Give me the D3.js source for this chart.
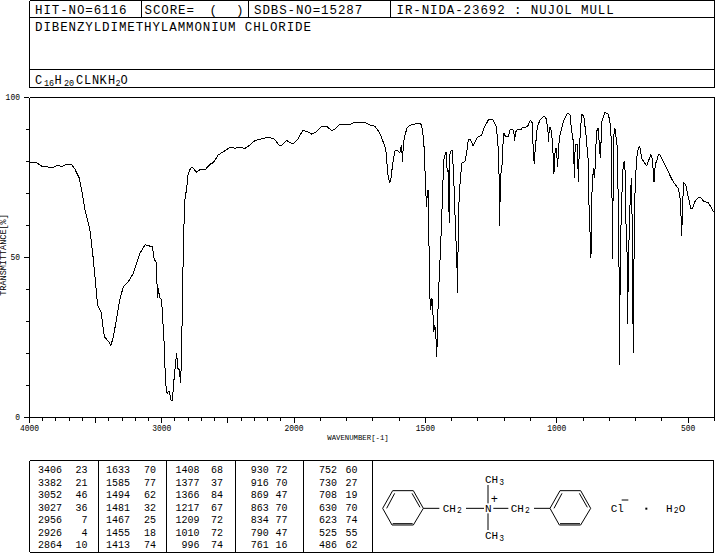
<!DOCTYPE html>
<html><head><meta charset="utf-8">
<script src="https://cdn.jsdelivr.net/npm/d3@7"></script>
<style>html,body{margin:0;padding:0;background:#fff}svg{display:block}text{font-family:"Liberation Mono",monospace;fill:#000}</style>
</head><body><svg id="c" width="715" height="553"></svg>
<script>
const wavenumber=[3999,3981,3951,3908,3858,3820,3790,3757,3719,3681,3656,3623,3606,3580,3543,3522,3505,3485,3459,3434,3404,3384,3366,3341,3321,3291,3253,3215,3165,3127,3071,3056,3044,3036,3031,3024,3018,3001,2983,2971,2960,2945,2930,2920,2910,2897,2887,2880,2867,2857,2850,2842,2835,2825,2812,2800,2782,2767,2737,2707,2673,2635,
2610,2573,2522,2484,2446,2409,2371,2333,2295,2245,2195,2152,2112,2093,2056,2006,1987,1967,1952,1933,1914,1895,1876,1857,1844,1828,1787,1772,1730,1711,
1692,1673,1654,1648,1644,1636,1632,1625,1616,1607,1597,1591,1587,1584,1578,1569,1553,1518,1511,1504,1499,1495,1493,1489,1488,1483,1480,1476,1473,1470,1468,1465,1461,1457,1454,1451,1445,1438,1435,1430,1424,1421,1417,1414,1412,1409,1407,1402,1398,1394,1390,1386,1381,1377,1375,1369,1362,1350,1343,1337,1328,1318,1303,1286,1277,1261,1244,1232,1227,1223,
1219,1218,1214,1209,1206,1201,1195,1185,1178,1168,1163,1161,1156,1147,1138,1131,1112,1100,1093,1090,1086,1082,1074,1064,1049,1041,1035,1031,1029,1024,1019,1014,1011,1007,1003,1001,997,993,988,975,960,950,944,937,933,930,922,918,915,909,904,897,889,880,878,870,868,861,857,854,849,842,838,834,829,817,
804,798,792,790,789,786,784,779,775,770,766,762,761,759,755,751,747,743,740,737,733,731,727,723,719,715,713,709,707,705,702,696,690,684,677,669,658,650,642,636,630,625,620,614,608,595,582,570,557,538,532,528,525,521,518,509,500,490,483,475,462,453,440,424,411,402];
const transmittance=[79.8,79.4,79.6,78.4,78.1,78.0,78.6,78.3,78.9,78.9,77.4,74.6,70.9,64.7,58.4,51.1,43.8,35.0,32.9,25.1,23.7,22.4,25.1,30.8,36.0,40.7,42.3,44.9,51.1,53.8,53.2,49.0,49.0,41.8,37.1,40.2,37.6,36.5,24.0,10.5,7.4,8.2,5.3,5.1,10.5,16.2,20.1,15.2,14.7,10.5,20.4,40.7,56.3,67.8,71.4,76.1,77.7,78.0,76.5,77.4,77.2,79.0,
79.5,81.9,83.2,84.3,84.0,84.3,83.9,85.0,86.4,86.9,87.4,87.0,84.9,84.8,86.4,85.3,86.6,89.5,89.3,88.4,89.2,90.9,90.9,89.5,89.9,91.4,91.4,92.0,92.0,91.2,
90.9,88.6,84.5,81.9,76.1,73.3,74.0,78.7,83.2,83.2,82.7,85.0,79.8,85.5,88.1,90.5,91.4,91.8,89.7,83.4,70.9,65.7,70.7,70.9,61.5,37.6,33.4,37.3,36.5,29.2,26.6,28.7,27.2,18.6,27.2,37.1,48.0,61.5,69.9,80.3,82.4,82.7,76.7,77.2,69.9,60.5,81.9,83.4,83.4,77.7,69.9,59.5,50.1,38.6,62.6,72.0,79.3,79.8,82.4,86.6,86.6,84.7,87.4,88.1,90.2,92.8,93.0,91.2,88.1,84.0,
73.5,59.8,75.6,77.7,84.0,88.6,87.6,87.6,89.7,90.0,88.6,86.2,89.2,90.0,89.7,90.4,90.7,92.8,91.8,84.0,79.0,84.0,90.7,92.8,94.1,93.3,90.7,86.0,90.2,90.7,88.1,81.9,75.8,82.4,84.0,82.9,78.2,84.5,88.1,92.3,94.9,94.6,89.7,86.0,74.8,85.2,85.2,73.5,81.9,91.2,94.6,93.9,88.1,79.8,67.3,49.6,67.3,77.7,74.6,78.2,89.2,90.4,84.5,80.8,92.3,95.2,
94.6,92.3,86.0,68.3,49.4,68.3,87.6,90.4,87.6,84.5,66.2,37.1,16.4,45.4,63.1,72.5,79.3,80.0,76.7,61.0,52.7,29.0,49.6,63.1,71.4,74.6,54.8,20.1,45.4,55.8,72.5,80.8,84.0,84.5,80.8,79.8,78.5,80.3,82.1,80.3,73.3,79.3,79.8,81.9,82.1,79.8,77.7,75.6,73.5,71.4,69.4,64.2,56.7,66.2,73.3,72.5,68.8,65.2,65.2,67.3,68.5,68.7,67.3,67.1,65.2,64.0];
const xTickLabels=[4000,3000,2000,1500,1000,500];
const yTickLabels=[0,50,100];
const peakColumns=[
 [[3406,23],[3382,21],[3052,46],[3027,36],[2956,7],[2926,4],[2864,10]],
 [[1633,70],[1585,77],[1494,62],[1481,32],[1467,25],[1455,18],[1413,74]],
 [[1408,68],[1377,37],[1366,84],[1217,67],[1209,72],[1010,72],[996,74]],
 [[930,72],[916,70],[869,47],[863,70],[834,77],[790,47],[761,16]],
 [[752,60],[730,27],[708,19],[630,70],[623,74],[525,55],[486,62]]];
const peakNumberRight=[62,130,199.5,268.7,337];
const peakValueRight=[87.5,156,223,287.5,357.5];

const svg=d3.select("#c");
const x=d3.scaleLinear().domain([4000,2000,400]).range([29.5,294,714.5]);
const y=d3.scaleLinear().domain([0,100]).range([417,97]);
function line(a,b,c,d,w){svg.append("line").attr("x1",a).attr("y1",b).attr("x2",c).attr("y2",d).attr("stroke","#000").attr("stroke-width",w||1).attr("shape-rendering","crispEdges");}
function label(s,px,py,size,anchor,sx,sy,ls){
  const t=svg.append("text").attr("transform",`translate(${px},${py}) scale(${sx||1},${sy||1})`).attr("font-size",size).attr("text-anchor",anchor||"start").text(s);
  if(ls)t.attr("letter-spacing",ls);return t;}

// header boxes
[[29.5,0.5,714.5,0.5],[29.5,17.5,714.5,17.5],[29.5,69.5,714.5,69.5],[29.5,87.5,714.5,87.5],
 [29.5,0.5,29.5,87.5],[714.5,0.5,714.5,87.5],[141.5,0.5,141.5,17.5],[248.5,0.5,248.5,17.5],[390.5,0.5,390.5,17.5]]
 .forEach(d=>line(...d));
const H=(s,px,py)=>label(s,px,py,12.5,"start",1,1.05,0.9);
H("HIT-NO=6116",35,13.5);H("SCORE=",144.5,13.5);H("(",209.5,13.5);H(")",236,13.5);H("SDBS-NO=15287",254,13.5);
H("IR-NIDA-23692 : NUJOL MULL",396.5,13.5);
H("DIBENZYLDIMETHYLAMMONIUM CHLORIDE",35,31);
[["C",35,83.5,12],["16",44,86,8.5],["H",54.5,83.5,12],["20",64,86,8.5],["C",76,83.5,12],["L",84,83.5,12],["N",92,83.5,12],["K",99.5,83.5,12],["H",108,83.5,12],["2",115.5,86,8.5],["O",120.5,83.5,12]]
 .forEach(d=>label(d[0],d[1],d[2],d[3],"start",1,1.12));

// axes
const gx=svg.append("g").attr("transform","translate(0,417.5)");
const xTicks=d3.range(400,4001,100);
gx.call(d3.axisBottom(x).offset(0).tickValues(xTicks).tickSize(3).tickFormat("").tickSizeOuter(0));
gx.selectAll(".tick line").filter(d=>d%500===0).attr("y2",5);
const gy=svg.append("g").attr("transform","translate(29,0)");
gy.call(d3.axisLeft(y).tickValues(d3.range(0,101,10)).tickSize(3).tickFormat("").tickSizeOuter(0));
gy.selectAll(".tick line").filter(d=>d%50===0).attr("x2",-5);
svg.selectAll("g .domain, g .tick line").attr("stroke","#000").attr("shape-rendering","crispEdges");
line(29.5,97.5,714.5,97.5);line(714.5,97.5,714.5,417.5);
xTickLabels.forEach(v=>label(v,x(v),431,8,"middle",1,1.1));
yTickLabels.forEach(v=>label(v,20,y(v)+3.3,8,"end",1,1.2));
label("WAVENUMBER[-1]",358,439.5,7.3,"middle",1,1);
label("TRANSMITTANCE[%]",0,0,8.5,"middle",1,1.1).attr("transform","translate(6,255) rotate(-90) scale(1,1.1)");

// spectrum
svg.append("path").datum(wavenumber.map((w,i)=>[w,transmittance[i]]))
 .attr("fill","none").attr("stroke","#000").attr("stroke-width",1).attr("stroke-linejoin","bevel").attr("shape-rendering","crispEdges")
 .attr("d",d3.line().x(d=>x(d[0])).y(d=>y(d[1])));

// peak table
[[29.5,460.5,713.5,460.5],[29.5,552,713.5,552],[29.5,460.5,29.5,552],[98.5,460.5,98.5,552],[166.5,460.5,166.5,552],[235.5,460.5,235.5,552],[303.5,460.5,303.5,552],[372.5,460.5,372.5,552],[713.5,460.5,713.5,552]]
 .forEach(d=>line(...d));
peakColumns.forEach((col,c)=>col.forEach((p,r)=>{
  const py=473+r*12.55;
  label(p[0],peakNumberRight[c],py,10,"end",1,1.1);
  label(p[1],peakValueRight[c],py,10,"end",1,1.1);
}));

// structure
const zx=v=>370+v/3, zy=v=>450+v/3;
function bond(a,b,c,d,w){svg.append("line").attr("x1",zx(a)).attr("y1",zy(b)).attr("x2",zx(c)).attr("y2",zy(d)).attr("stroke","#000").attr("stroke-width",w||1);}
[0,502].forEach(o=>{
  const pts=[[38,175],[68,122],[130,122],[160,175],[130,225],[66,225]];
  pts.forEach((p,i)=>{const q=pts[(i+1)%6];bond(p[0]+o,p[1],q[0]+o,q[1]);});
  bond(50+o,175,74+o,130);bond(126+o,130,150+o,172);bond(68+o,221,128+o,221);
});
[[160,175,208,175],[288,175,342,175],[370,175,415,175],[492,175,540,175],[354,105,354,160],[354,190,354,240]].forEach(d=>bond(...d));
const S=(s,a,b,sz)=>label(s,zx(a),zy(b),sz||11,"start",1,1.05);
S("CH",218,186);S("2",261,190,8);S("CH",422,186);S("2",465,190,8);
S("N",345,186);S("+",362,160,12);
S("CH",345,100);S("3",388,105,8);S("CH",345,268);S("3",388,273,8);
S("Cl",722,186);bond(755,150,775,150);
S("H",888,186);S("2",911,190,8);S("O",926,186);
svg.append("rect").attr("x",zx(826)).attr("y",zy(173)).attr("width",2).attr("height",2);
</script></body></html>
